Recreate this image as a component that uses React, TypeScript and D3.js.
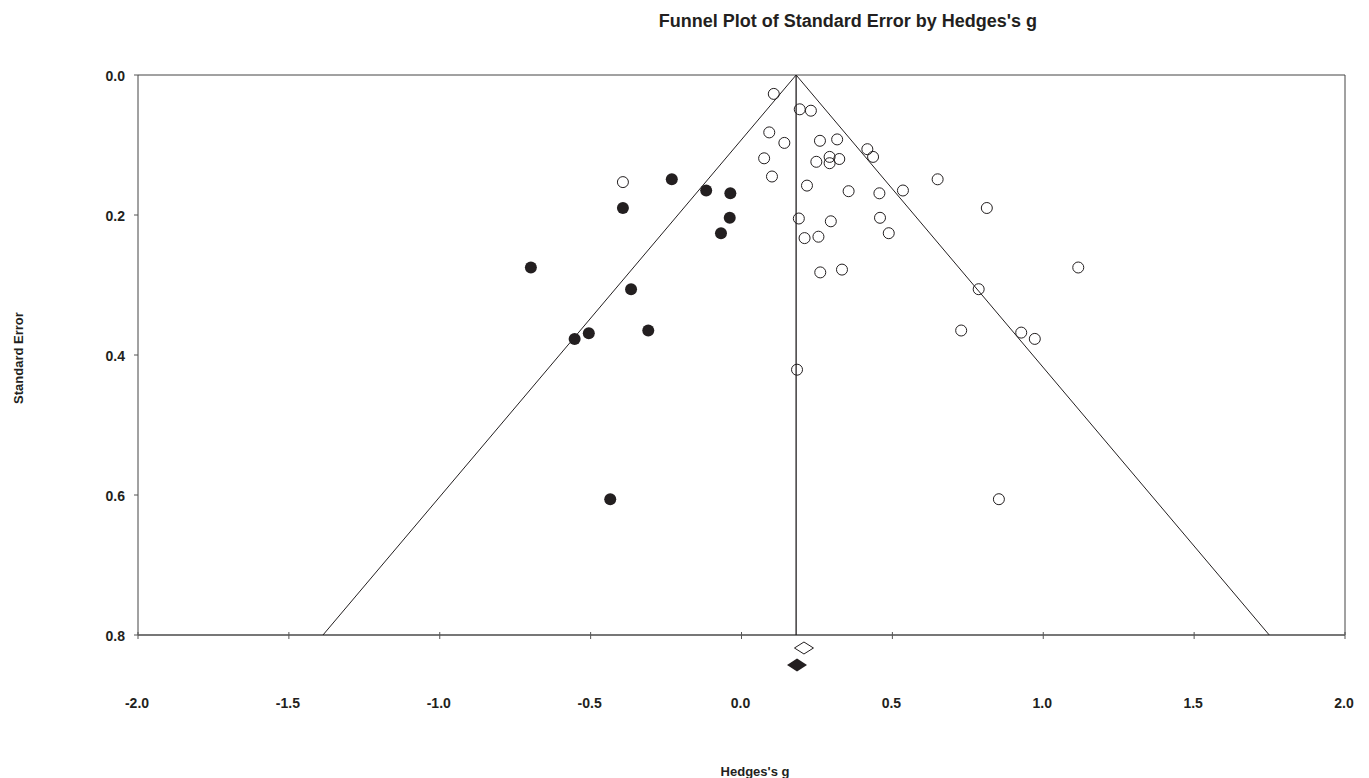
import { useEffect, useRef } from "react";
import * as d3 from "d3";

// observed studies (Hedges's g, standard error)
const observedG = [
  0.107, 0.193, 0.23, 0.092, 0.142, 0.26, 0.317, 0.417, 0.436, 0.075, 0.292, 0.324, 0.248,
  0.292, 0.101, -0.393, 0.217, 0.65, 0.355, 0.457, 0.535, 0.813, 0.19, 0.296, 0.459, 0.488,
  0.209, 0.255, 1.116, 0.261, 0.333, 0.786, 0.728, 0.927, 0.972, 0.853, 0.184,
];
const observedSE = [
  0.027, 0.049, 0.051, 0.082, 0.097, 0.094, 0.092, 0.106, 0.117, 0.119, 0.117, 0.12, 0.124,
  0.126, 0.145, 0.153, 0.158, 0.149, 0.166, 0.169, 0.165, 0.19, 0.205, 0.209, 0.204, 0.226,
  0.233, 0.231, 0.275, 0.282, 0.278, 0.306, 0.365, 0.368, 0.377, 0.606, 0.421,
];

// imputed studies (trim and fill)
const imputedG = [-0.231, -0.393, -0.117, -0.037, -0.039, -0.068, -0.698, -0.366, -0.309, -0.506, -0.553, -0.435];
const imputedSE = [0.149, 0.19, 0.165, 0.169, 0.204, 0.226, 0.275, 0.306, 0.365, 0.369, 0.377, 0.606];

const combinedG = 0.181;
const observedMean = 0.207;
const adjustedMean = 0.184;

const xTicks = [-2.0, -1.5, -1.0, -0.5, 0.0, 0.5, 1.0, 1.5, 2.0];
const yTicks = [0.0, 0.2, 0.4, 0.6, 0.8];

const W = 1369;
const H = 778;
const ink = "#231f20";

const App = () => {
  const ref = useRef<SVGSVGElement>(null);

  useEffect(() => {
    const svg = d3.select(ref.current);
    svg.selectAll("*").remove();

    const x = d3.scaleLinear().domain([-2, 2]).range([138, 1345]);
    const y = d3.scaleLinear().domain([0, 0.8]).range([75, 635]);
    const font = "'Liberation Sans', Arial, Helvetica, sans-serif";

    // title
    svg
      .append("text")
      .attr("x", 1037)
      .attr("y", 27)
      .attr("text-anchor", "end")
      .attr("font-family", font)
      .attr("font-weight", "bold")
      .attr("font-size", 18)
      .attr("fill", ink)
      .text("Funnel Plot of Standard Error by Hedges's g");

    // frame
    svg
      .append("path")
      .attr("d", `M${x(-2)},${y(0.8)}V${y(0)}H${x(2)}V${y(0.8)}`)
      .attr("fill", "none")
      .attr("stroke", "#444")
      .attr("stroke-width", 1);

    // x axis
    svg
      .append("line")
      .attr("x1", x(-2))
      .attr("x2", x(2))
      .attr("y1", y(0.8))
      .attr("y2", y(0.8))
      .attr("stroke", "#777")
      .attr("stroke-width", 2);

    svg
      .selectAll(".xt")
      .data(xTicks)
      .enter()
      .append("line")
      .attr("x1", (d) => x(d))
      .attr("x2", (d) => x(d))
      .attr("y1", y(0.8) - 3)
      .attr("y2", y(0.8) + 4)
      .attr("stroke", "#555")
      .attr("stroke-width", 1);

    svg
      .selectAll(".xl")
      .data(xTicks)
      .enter()
      .append("text")
      .attr("x", (d) => x(d) - 1)
      .attr("y", 708)
      .attr("text-anchor", "middle")
      .attr("font-family", font)
      .attr("font-weight", "bold")
      .attr("font-size", 14)
      .attr("fill", ink)
      .text((d) => d.toFixed(1));

    // y axis
    svg
      .selectAll(".yt")
      .data(yTicks)
      .enter()
      .append("line")
      .attr("x1", x(-2) - 4)
      .attr("x2", x(-2))
      .attr("y1", (d) => y(d))
      .attr("y2", (d) => y(d))
      .attr("stroke", "#555");

    svg
      .selectAll(".yl")
      .data(yTicks)
      .enter()
      .append("text")
      .attr("x", 125)
      .attr("y", (d) => y(d) + 6)
      .attr("text-anchor", "end")
      .attr("font-family", font)
      .attr("font-weight", "bold")
      .attr("font-size", 14)
      .attr("fill", ink)
      .text((d) => d.toFixed(1));

    // axis titles
    svg
      .append("text")
      .attr("x", 755)
      .attr("y", 776)
      .attr("text-anchor", "middle")
      .attr("font-family", font)
      .attr("font-weight", "bold")
      .attr("font-size", 13)
      .attr("fill", ink)
      .text("Hedges's g");

    svg
      .append("text")
      .attr("transform", `translate(23,358) rotate(-90)`)
      .attr("text-anchor", "middle")
      .attr("font-family", font)
      .attr("font-weight", "bold")
      .attr("font-size", 13)
      .attr("fill", ink)
      .text("Standard Error");

    // funnel
    const z = 1.96;
    svg
      .append("path")
      .attr(
        "d",
        d3.line()([
          [x(combinedG - z * 0.8), y(0.8)],
          [x(combinedG), y(0)],
          [x(combinedG + z * 0.8), y(0.8)],
        ])
      )
      .attr("fill", "none")
      .attr("stroke", ink)
      .attr("stroke-width", 1);

    svg
      .append("line")
      .attr("x1", x(combinedG))
      .attr("x2", x(combinedG))
      .attr("y1", y(0))
      .attr("y2", y(0.8))
      .attr("stroke", ink)
      .attr("stroke-width", 1.3);

    // points
    const obs = observedG.map((g, i) => [g, observedSE[i]]);
    const imp = imputedG.map((g, i) => [g, imputedSE[i]]);

    svg
      .selectAll(".obs")
      .data(obs)
      .enter()
      .append("circle")
      .attr("cx", (d) => x(d[0]))
      .attr("cy", (d) => y(d[1]))
      .attr("r", 5.5)
      .attr("fill", "none")
      .attr("stroke", ink)
      .attr("stroke-width", 1);

    svg
      .selectAll(".imp")
      .data(imp)
      .enter()
      .append("circle")
      .attr("cx", (d) => x(d[0]))
      .attr("cy", (d) => y(d[1]))
      .attr("r", 6)
      .attr("fill", ink);

    // summary diamonds
    const diamond = (cx: number, cy: number, hw: number, hh: number) =>
      `M${cx - hw},${cy}L${cx},${cy - hh}L${cx + hw},${cy}L${cx},${cy + hh}Z`;

    svg
      .append("path")
      .attr("d", diamond(x(observedMean), y(0.8) + 13, 9.5, 6))
      .attr("fill", "#fff")
      .attr("stroke", ink)
      .attr("stroke-width", 1);

    svg
      .append("path")
      .attr("d", diamond(x(adjustedMean), y(0.8) + 30, 10, 6.5))
      .attr("fill", ink);
  }, []);

  return (
    <svg
      ref={ref}
      width={W}
      height={H}
      style={{ position: "absolute", top: 0, left: 0, background: "#fff" }}
    ></svg>
  );
};

export default App;
